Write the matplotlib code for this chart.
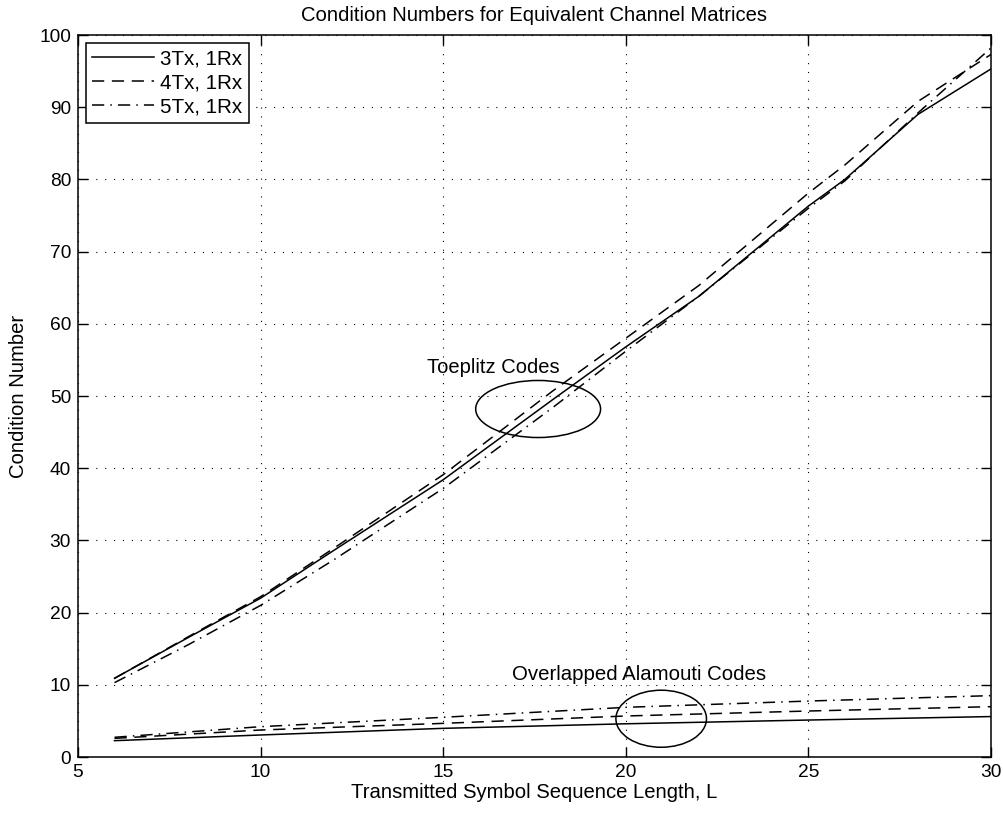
import matplotlib
matplotlib.use('Agg')
from matplotlib import pyplot as plt
from matplotlib.patches import Ellipse

plt.rcParams['font.family'] = ['Liberation Sans', 'DejaVu Sans']
plt.rcParams['font.size'] = 14.6

# Toeplitz 码 (上面三条曲线)
L_top = [6, 8, 10, 12, 15, 18, 20, 22, 25, 26, 28, 30]
toep_3tx = [10.9, 16.5, 22.0, 28.6, 38.4, 49.5, 56.8, 63.8, 76.3, 80.0, 89.0, 95.3]
toep_4tx = [10.9, 16.6, 22.2, 28.9, 39.1, 50.7, 58.0, 65.3, 78.1, 82.0, 90.8, 97.3]
toep_5tx = [10.3, 15.5, 21.0, 27.3, 37.2, 48.4, 56.2, 63.8, 76.0, 79.8, 89.2, 98.2]

# Overlapped Alamouti 码 (下面三条曲线)
L_low = [6, 10, 15, 20, 25, 30]
alam_3tx = [2.26, 3.05, 3.97, 4.6, 5.12, 5.6]
alam_4tx = [2.58, 3.74, 4.66, 5.68, 6.37, 6.97]
alam_5tx = [2.73, 4.2, 5.5, 6.88, 7.75, 8.5]

labels = ['3Tx, 1Rx', '4Tx, 1Rx', '5Tx, 1Rx']
x_ticks = [5, 10, 15, 20, 25, 30]
y_ticks = list(range(0, 101, 10))

dashed = (0, (8, 5))
dashdot = (0, (8, 4, 1, 4))
lw = 1.1

fig = plt.figure(figsize=(10.04, 8.16), dpi=100)
ax = fig.add_axes([0.0777, 0.0723, 0.9093, 0.8848])

ax.plot(L_top, toep_3tx, color='black', lw=lw, ls='-', label=labels[0])
ax.plot(L_top, toep_4tx, color='black', lw=lw, ls=dashed, label=labels[1])
ax.plot(L_top, toep_5tx, color='black', lw=lw, ls=dashdot, label=labels[2])
ax.plot(L_low, alam_3tx, color='black', lw=lw, ls='-')
ax.plot(L_low, alam_4tx, color='black', lw=lw, ls=dashed)
ax.plot(L_low, alam_5tx, color='black', lw=lw, ls=dashdot)

ax.add_patch(Ellipse((17.6, 48.2), 3.42, 7.9, fill=False, ec='black', lw=1.1))
ax.add_patch(Ellipse((20.97, 5.3), 2.48, 7.9, fill=False, ec='black', lw=1.1))
ax.text(16.36, 54, 'Toeplitz Codes', ha='center', va='center', fontsize=14.5)
ax.text(20.36, 11.4, 'Overlapped Alamouti Codes', ha='center', va='center', fontsize=14.7)

ax.set_xlim(5, 30)
ax.set_ylim(0, 100)
ax.set_xticks(x_ticks)
ax.set_yticks(y_ticks)
ax.tick_params(direction='in', length=7, width=1, top=True, right=True, pad=5,
               labelsize=13.8)
ax.grid(True, color='black', ls=(0, (1, 7)), lw=0.8)
for s in ax.spines.values():
    s.set_linewidth(1.1)

ax.set_title('Condition Numbers for Equivalent Channel Matrices', pad=10, fontsize=14.6)
ax.set_xlabel('Transmitted Symbol Sequence Length, L', labelpad=1.5)
ax.set_ylabel('Condition Number', labelpad=8)

leg = ax.legend(loc='upper left', fancybox=False, framealpha=1, edgecolor='black',
                handlelength=3.0, handletextpad=0.3, labelspacing=0.25,
                borderaxespad=0.4, borderpad=0.3, fontsize=14.8)
leg.get_frame().set_linewidth(1.1)

plt.savefig('out.png', dpi=100)
